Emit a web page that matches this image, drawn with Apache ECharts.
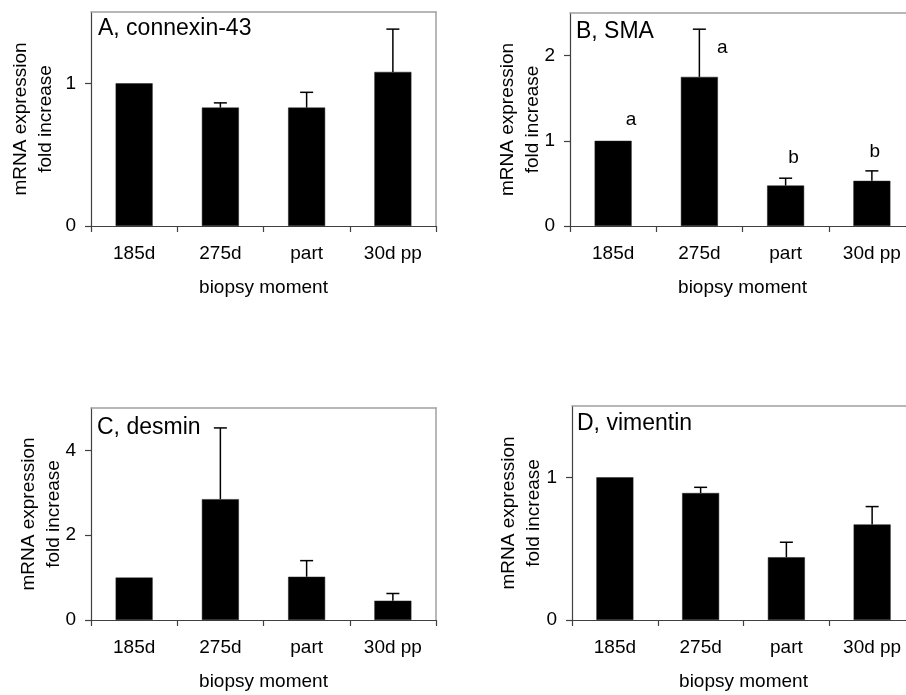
<!DOCTYPE html>
<html>
<head>
<meta charset="utf-8">
<script src="https://cdn.jsdelivr.net/npm/echarts@6/dist/echarts.min.js"></script>
<style>
html,body{margin:0;padding:0;background:#fff;overflow:hidden;}
#chart{width:906px;height:695px;}
</style>
</head>
<body>
<div id="chart"></div>
<script>
// ---- data ----
const categories = ['185d', '275d', 'part', '30d pp'];
const panelTitles = ['A, connexin-43', 'B, SMA', 'C, desmin', 'D, vimentin'];
const xAxisTitle = 'biopsy moment';
const yAxisTitle = 'mRNA expression\nfold increase';

const connexinMean = [1.0, 0.83, 0.83, 1.08];
const connexinErr  = [0, 0.033, 0.107, 0.30];
const smaMean      = [1.0, 1.75, 0.475, 0.53];
const smaErr       = [0, 0.56, 0.086, 0.117];
const desminMean   = [1.0, 2.85, 1.02, 0.455];
const desminErr    = [0, 1.68, 0.38, 0.17];
const vimentinMean = [1.0, 0.89, 0.44, 0.67];
const vimentinErr  = [0, 0.04, 0.105, 0.125];
const smaLetters   = ['a', 'a', 'b', 'b'];

const yMax   = [1.5, 2.5, 5, 1.5];
const yTicks = [[0, 1], [0, 1, 2], [0, 2, 4], [0, 1]];

// ---- layout ----
const FONT = "'Liberation Sans', Arial, sans-serif";
const grids = [
  {left: 91,  top: 12,  width: 345, height: 214},
  {left: 570, top: 13,  width: 345, height: 213},
  {left: 91,  top: 408, width: 345, height: 212},
  {left: 572, top: 406, width: 343, height: 214}
];
const showRightFrame = [true, false, true, false];
const titlePos = [[98, 17], [576, 20], [97, 416], [577, 412]];
const yNameGap = [33, 25, 25, 26];

const means = [connexinMean, smaMean, desminMean, vimentinMean];
const errs  = [connexinErr, smaErr, desminErr, vimentinErr];

const chart = echarts.init(document.getElementById('chart'), null, {renderer: 'canvas'});

const frameLine = {show: true, lineStyle: {color: '#a0a0a0', width: 1.5}};

const xAxes = [];
const yAxes = [];
grids.forEach((g, i) => {
  xAxes.push({
    type: 'category', gridIndex: i, data: categories, position: 'bottom',
    boundaryGap: true,
    axisLine: {show: true, onZero: false, lineStyle: {color: '#404040', width: 1.2}},
    axisTick: {show: true, inside: false, length: 6, alignWithLabel: false, lineStyle: {color: '#404040', width: 1.2}},
    axisLabel: {fontFamily: FONT, fontSize: 19, color: '#000', margin: 18},
    name: xAxisTitle, nameLocation: 'middle', nameGap: 52, nameMoveOverlap: false,
    nameTextStyle: {fontFamily: FONT, fontSize: 19, color: '#000'},
    splitLine: {show: false}
  });
  yAxes.push({
    type: 'value', gridIndex: i, min: 0, max: yMax[i], position: 'left',
    axisLine: {show: true, onZero: false, lineStyle: {color: '#404040', width: 1.2}},
    axisTick: {show: true, length: 6, customValues: yTicks[i], lineStyle: {color: '#404040', width: 1.2}},
    axisLabel: {fontFamily: FONT, fontSize: 19, color: '#000', margin: 15, customValues: yTicks[i]},
    splitLine: {show: false},
    name: yAxisTitle, nameLocation: 'middle', nameGap: yNameGap[i], nameMoveOverlap: false,
    nameTextStyle: {fontFamily: FONT, fontSize: 19, color: '#000', lineHeight: 25, align: 'center'}
  });
});
// frame lines (top of every panel, right side only where it lies inside the picture)
grids.forEach((g, i) => {
  xAxes.push({
    type: 'category', gridIndex: i, data: categories, position: 'top',
    axisLine: Object.assign({onZero: false}, frameLine),
    axisTick: {show: false}, axisLabel: {show: false}, splitLine: {show: false}
  });
  yAxes.push({
    type: 'value', gridIndex: i, min: 0, max: yMax[i], position: 'right',
    axisLine: Object.assign({onZero: false}, frameLine, {show: showRightFrame[i]}),
    axisTick: {show: false}, axisLabel: {show: false}, splitLine: {show: false}
  });
});

const option = {
  animation: false,
  backgroundColor: '#fff',
  textStyle: {fontFamily: FONT},
  title: panelTitles.map((t, i) => ({
    text: t, left: titlePos[i][0], top: titlePos[i][1], padding: 0,
    textStyle: {fontFamily: FONT, fontSize: 23, fontWeight: 'normal', color: '#000'}
  })),
  grid: grids.map(g => Object.assign({
    show: false, containLabel: false, outerBoundsMode: 'none'
  }, g)),
  xAxis: xAxes,
  yAxis: yAxes,
  series: []
};

means.forEach((m, i) => {
  option.series.push({
    type: 'bar', xAxisIndex: i, yAxisIndex: i, data: m,
    barWidth: 37,
    itemStyle: {color: '#000', borderColor: '#222', borderWidth: 0.5},
    z: 2
  });
  option.series.push({
    type: 'custom', xAxisIndex: i, yAxisIndex: i,
    data: m.map((v, k) => [k, v, v + errs[i][k]]),
    renderItem: function (params, api) {
      const base = api.coord([api.value(0), api.value(1)]);
      const top = api.coord([api.value(0), api.value(2)]);
      if (Math.abs(base[1] - top[1]) < 0.5) return null;
      const half = 6.5;
      return {
        type: 'group',
        children: [
          {type: 'line', shape: {x1: top[0], y1: base[1], x2: top[0], y2: top[1]}, style: {stroke: '#000', lineWidth: 1.5}},
          {type: 'line', shape: {x1: top[0] - half, y1: top[1], x2: top[0] + half, y2: top[1]}, style: {stroke: '#000', lineWidth: 1.5}}
        ]
      };
    },
    z: 3
  });
});

// significance letters for panel B, placed relative to the error bar tops
const letterOffsets = [[18, -21], [23, 19], [8, -20], [3, -19]];
option.series.push({
  type: 'custom', xAxisIndex: 1, yAxisIndex: 1,
  data: smaMean.map((v, k) => [k, v + smaErr[k], smaLetters[k]]),
  renderItem: function (params, api) {
    const p = api.coord([api.value(0), api.value(1)]);
    const off = letterOffsets[params.dataIndex];
    return {
      type: 'text',
      style: {
        text: smaLetters[params.dataIndex],
        x: p[0] + off[0], y: p[1] + off[1],
        align: 'center', verticalAlign: 'middle',
        font: '19px ' + FONT, fill: '#000'
      }
    };
  },
  z: 4
});

chart.setOption(option);
</script>
</body>
</html>
